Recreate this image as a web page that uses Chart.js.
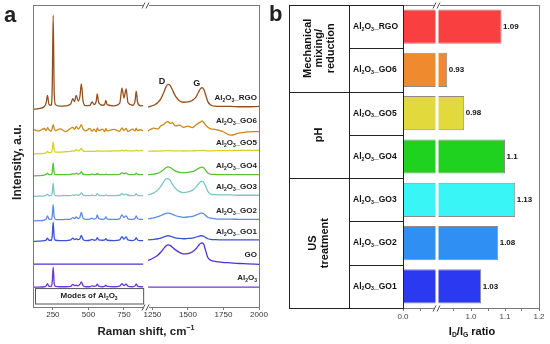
<!DOCTYPE html>
<html>
<head>
<meta charset="utf-8">
<script src="https://cdn.jsdelivr.net/npm/chart.js@4.4.1/dist/chart.umd.min.js"></script>
<style>
  html, body { margin: 0; padding: 0; background: #fff; }
  #wrap { position: relative; width: 550px; height: 344px; overflow: hidden; }
  canvas { position: absolute; top: 0; }
  #ramanChart { left: 0; }
  #ratioChart { left: 268px; }
</style>
</head>
<body>
<div id="wrap">
  <canvas id="ramanChart" width="282" height="344"></canvas>
  <canvas id="ratioChart" width="282" height="344"></canvas>
</div>
<script>
const FONT = '"Liberation Sans", Arial, sans-serif';

// ---- panel a: Raman shift (cm-1), two segments of a broken axis ----
const shiftLow = [110, 150, 190, 203, 212, 222, 238, 245, 252, 259, 268, 300, 340, 375, 390, 402, 414, 428, 440, 450, 462, 480, 510, 526, 540, 555, 562, 572, 600, 615, 622, 632, 680, 720, 736, 750, 765, 778, 810, 828, 836, 846, 866, 885];
const shiftHigh = [1220, 1240, 1260, 1290, 1310, 1330, 1345, 1360, 1375, 1390, 1410, 1440, 1470, 1500, 1530, 1555, 1575, 1590, 1600, 1612, 1625, 1640, 1660, 1690, 1740, 1800, 1860, 1920, 2000];
const ramanTicks = [250, 500, 750, 1250, 1500, 1750, 2000];

const spectrumNames = ['RGO', 'GO6', 'GO5', 'GO4', 'GO3', 'GO2', 'GO1', 'GO', 'Al2O3'];
const stackOffsets = [66.2, 58.6, 51.3, 43.7, 36.8, 28.8, 21.9, 14.2, 6.6];

const rgoLow = [-0.8, -0.5, 0.2, 1.5, 3.9, 1.0, 0.6, 6.0, 30.4, 5.0, 0.8, 0.3, 0.4, 1.0, 2.8, 1.8, 3.9, 2.0, 3.5, 7.7, 2.0, 0.5, 0.6, 1.7, 0.8, 2.0, 4.4, 1.5, 0.6, 1.0, 2.2, 0.8, 0.4, 1.2, 6.3, 3.0, 6.0, 1.5, 0.6, 2.0, 5.3, 1.5, 0.4, 0.5];
const rgoHigh = [0, 0.3, 0.6, 1.6, 2.8, 4.8, 6.6, 7.5, 7.1, 5.8, 3.8, 2.1, 1.6, 1.7, 2.2, 3.2, 5.0, 6.2, 6.4, 5.8, 4.0, 1.8, 0.7, 0.3, 0.2, 0.2, 0.1, 0.1, 0.2];
const go6Low = [0.2, -0.3, 0.5, -0.2, 0.8, 0.1, -0.4, 0.6, 1.8, 0.5, -0.2, 0.4, -0.5, 0.6, 0.9, 0.2, 1.2, 0.3, 0.9, 1.8, 0.4, -0.3, 0.5, -0.4, 0.3, -0.6, 0.7, -0.2, 0.3, -0.5, 0.5, -0.3, 0.2, -0.4, 0.7, -0.1, 0.5, -0.5, 0.3, -0.3, 0.6, -0.2, 0.1, -0.3];
const go6High = [-0.3, 0.3, 0.6, 0.4, 1.4, 1.8, 2.6, 2.8, 2.2, 2.5, 1.4, 1.6, 0.9, 1.3, 0.8, 1.6, 2.3, 2.7, 3.0, 2.4, 1.6, 0.9, 0.4, 0.2, -0.4, -1.7, -1.0, -0.6, -0.5];
const go5Low = [-0.6, -0.5, -0.4, -0.2, 0.2, -0.2, -0.1, 0.8, 3.3, 0.8, 0, 0, 0.1, 0.2, 0.4, 0.3, 0.8, 0.4, 0.6, 1.2, 0.4, 0.2, 0.2, 0.3, 0.2, 0.3, 0.5, 0.3, 0.3, 0.3, 0.4, 0.3, 0.4, 0.4, 0.6, 0.4, 0.6, 0.4, 0.4, 0.4, 0.6, 0.4, 0.5, 0.5];
const go5High = [0.3, 0.3, 0.35, 0.3, 0.4, 0.4, 0.45, 0.5, 0.45, 0.4, 0.4, 0.4, 0.35, 0.4, 0.4, 0.45, 0.5, 0.5, 0.55, 0.5, 0.45, 0.4, 0.4, 0.45, 0.5, 0.5, 0.55, 0.55, 0.6];
const go4Low = [-0.3, -0.2, 0, 0.2, 0.6, 0.1, 0.1, 0.9, 4.0, 0.8, 0.1, 0.1, 0.1, 0.2, 0.4, 0.3, 0.6, 0.3, 0.5, 1.0, 0.3, 0.1, 0.1, 0.3, 0.1, 0.2, 0.5, 0.2, 0.1, 0.1, 0.3, 0.1, 0.1, 0.2, 0.8, 0.4, 0.7, 0.2, 0.1, 0.2, 0.6, 0.2, 0.1, 0.1];
const go4High = [0.1, 0.2, 0.3, 0.6, 1.1, 1.8, 2.4, 2.7, 2.5, 2.0, 1.4, 0.9, 0.8, 0.9, 1.1, 1.6, 2.2, 2.5, 2.6, 2.3, 1.5, 0.7, 0.3, 0.2, 0.1, 0.1, 0.1, 0.1, 0.1];
const go3Low = [-0.2, -0.1, 0, 0.2, 0.5, 0.1, 0.1, 0.9, 4.2, 0.8, 0.1, 0, 0.1, 0.1, 0.3, 0.2, 0.4, 0.2, 0.4, 1.0, 0.3, 0.1, 0.1, 0.2, 0.1, 0.2, 0.7, 0.2, 0.1, 0.1, 0.3, 0.1, 0.1, 0.2, 0.7, 0.3, 0.6, 0.2, 0.1, 0.2, 0.7, 0.2, 0.1, 0.1];
const go3High = [0.3, 0.6, 1.0, 2.0, 3.2, 4.7, 5.6, 5.7, 5.1, 3.9, 2.6, 1.4, 1.1, 1.3, 1.8, 2.8, 4.0, 4.7, 4.8, 4.4, 3.2, 1.5, 0.6, 0.4, 0.3, 0.3, 0.2, 0.2, 0.2];
const go2Low = [-0.3, -0.2, 0, 0.4, 1.4, 0.3, 0.2, 1.2, 5.1, 1.0, 0.2, 0.1, 0.2, 0.3, 0.8, 0.5, 1.0, 0.5, 0.9, 2.5, 0.6, 0.2, 0.3, 0.6, 0.3, 0.6, 1.7, 0.5, 0.2, 0.4, 1.0, 0.3, 0.2, 0.4, 1.7, 0.8, 1.4, 0.4, 0.2, 0.5, 1.4, 0.4, 0.2, 0.2];
const go2High = [0.4, 0.5, 0.7, 1.1, 1.5, 1.9, 2.2, 2.3, 2.2, 1.9, 1.5, 1.1, 0.9, 1.0, 1.2, 1.6, 2.0, 2.3, 2.3, 2.1, 1.5, 0.9, 0.6, 0.4, 0.3, 0.3, 0.2, 0.2, 0.2];
const go1Low = [-0.2, -0.1, 0.1, 0.3, 0.9, 0.2, 0.2, 1.4, 6.2, 1.2, 0.2, 0.1, 0.1, 0.3, 0.9, 0.4, 0.7, 0.4, 0.7, 1.8, 0.5, 0.1, 0.2, 0.5, 0.2, 0.4, 1.1, 0.3, 0.2, 0.3, 0.7, 0.2, 0.1, 0.3, 1.4, 0.6, 1.3, 0.3, 0.1, 0.4, 1.1, 0.3, 0.1, 0.1];
const go1High = [0.3, 0.4, 0.5, 0.7, 0.9, 1.3, 1.6, 1.7, 1.6, 1.3, 1.0, 0.8, 0.7, 0.8, 0.9, 1.2, 1.5, 1.7, 1.7, 1.5, 1.1, 0.7, 0.5, 0.4, 0.3, 0.3, 0.3, 0.3, 0.3];
const goLow = [0, 0, 0, 0, 0, 0, 0, 0, 0, 0, 0, 0, 0, 0, 0, 0, 0, 0, 0, 0, 0, 0, 0, 0, 0, 0, 0, 0, 0, 0, 0, 0, 0, 0, 0, 0, 0, 0, 0, 0, 0, 0, 0, 0];
const goHigh = [1.2, 1.6, 2.1, 3.0, 4.0, 5.2, 6.0, 6.4, 6.2, 5.6, 4.8, 3.9, 3.4, 3.5, 4.0, 5.0, 6.2, 6.9, 7.0, 6.5, 4.4, 2.2, 1.3, 0.9, 0.6, 0.4, 0.2, 0.1, -0.1];
const aluminaLow = [0, 0, 0.1, 0.4, 1.1, 0.2, 0.2, 1.5, 6.6, 1.2, 0.2, 0.1, 0.1, 0.2, 0.9, 0.5, 0.6, 0.4, 0.9, 1.7, 0.5, 0.1, 0.1, 0.4, 0.2, 0.4, 1.0, 0.3, 0.1, 0.3, 0.6, 0.2, 0.1, 0.3, 1.1, 0.5, 1.0, 0.3, 0.1, 0.4, 1.0, 0.3, 0.1, 0.1];
const aluminaHigh = [0, 0, 0, 0, 0, 0, 0, 0, 0, 0, 0, 0, 0, 0, 0, 0, 0, 0, 0, 0, 0, 0, 0, 0, 0, 0, 0, 0, 0];

const lowSeries = [rgoLow, go6Low, go5Low, go4Low, go3Low, go2Low, go1Low, goLow, aluminaLow];
const highSeries = [rgoHigh, go6High, go5High, go4High, go3High, go2High, go1High, goHigh, aluminaHigh];
const spectrumColors = ['#94501e', '#c98a1c', '#d8d02a', '#58c238', '#7cc6c6', '#5a8ee0', '#3a52d6', '#4a32d8', '#6a38d8'];

// ---- panel b: ID/IG ratio ----
const ratioSamples = ['RGO', 'GO6', 'GO5', 'GO4', 'GO3', 'GO2', 'GO1'];
const ratioValues = [1.09, 0.93, 0.98, 1.1, 1.13, 1.08, 1.03];
const ratioLabels = ['1.09', '0.93', '0.98', '1.1', '1.13', '1.08', '1.03'];
const ratioTicks = [0, 0.05, 0.95, 1.0, 1.05, 1.1, 1.15, 1.2];
const groupTitles = [['Mechanical', 'mixing/', 'reduction'], ['pH'], ['US', 'treatment']];
const groupRows = [2, 2, 3];
const barColors = ['#f93f3f', '#ef8a2e', '#e2da3c', '#1fd21f', '#3af5f5', '#2f8ff2', '#2b3af0'];

// broken axes: remove the empty middle part
const ramanPos = v => v > 1000 ? v - 300 : v;
const ramanBack = v => v > 905 ? v + 300 : v;
const ratioPos = v => v > 0.5 ? v - 0.8 : v;
const ratioBack = v => v > 0.125 ? v + 0.8 : v;

function richText(ctx, parts, x, y, size, align) {
    const fontFor = m => `bold ${m ? size * 0.62 : size}px ${FONT}`;
    const widths = parts.map(([t, m]) => { ctx.font = fontFor(m); return ctx.measureText(t).width; });
    const total = widths.reduce((a, b) => a + b, 0);
    let cx = align === 'right' ? x - total : align === 'center' ? x - total / 2 : x;
    ctx.textAlign = 'left';
    ctx.textBaseline = 'middle';
    parts.forEach(([t, m], i) => {
        ctx.font = fontFor(m);
        const dy = m === 1 ? size * 0.3 : m === 2 ? -size * 0.35 : 0;
        ctx.fillText(t, cx, y + dy);
        cx += widths[i];
    });
}

function sampleParts(name) {
    if (name === 'GO') return [['GO', 0]];
    const base = [['Al', 0], ['2', 1], ['O', 0], ['3', 1]];
    return name === 'Al2O3' ? base : base.concat([['_' + name, 0]]);
}

function drawBreak(ctx, xb, yb) {
    ctx.fillStyle = '#fff';
    ctx.fillRect(xb - 3, yb - 2.5, 6, 5);
    ctx.strokeStyle = '#555';
    ctx.lineWidth = 1;
    ctx.beginPath();
    ctx.moveTo(xb - 4, yb + 3); ctx.lineTo(xb - 1, yb - 3);
    ctx.moveTo(xb, yb + 3); ctx.lineTo(xb + 3, yb - 3);
    ctx.stroke();
}

// ---------- panel a ----------
const ramanDatasets = spectrumNames.map((name, i) => ({
    label: name,
    data: shiftLow.map((s, k) => ({ x: ramanPos(s), y: stackOffsets[i] + lowSeries[i][k] }))
        .concat([{ x: 905, y: null }])
        .concat(shiftHigh.map((s, k) => ({ x: ramanPos(s), y: stackOffsets[i] + highSeries[i][k] }))),
    borderColor: spectrumColors[i],
    borderWidth: 1.3,
    pointRadius: 0,
    cubicInterpolationMode: 'monotone',
    spanGaps: false
}));

const ramanDecor = {
    id: 'ramanDecor',
    afterDraw(chart) {
        const { ctx, chartArea: ca, scales: { x, y } } = chart;
        ctx.save();
        ctx.strokeStyle = '#7a7a7a';
        ctx.lineWidth = 1;
        ctx.strokeRect(ca.left + 0.5, ca.top + 0.5, ca.right - ca.left, ca.bottom - ca.top);
        const xb = x.getPixelForValue(905);
        drawBreak(ctx, xb, ca.top + 0.5);
        drawBreak(ctx, xb, ca.bottom + 0.5);

        // "Modes of Al2O3" box
        const bTop = y.getPixelForValue(stackOffsets[8]) + 1.5;
        const bRight = x.getPixelForValue(ramanPos(shiftLow[shiftLow.length - 1]));
        ctx.strokeStyle = '#555';
        ctx.strokeRect(ca.left + 2.5, bTop, bRight - ca.left - 2, ca.bottom - 3 - bTop);
        ctx.fillStyle = '#222';
        richText(ctx, [['Modes of Al', 0], ['2', 1], ['O', 0], ['3', 1]],
            (ca.left + bRight) / 2 + 1, (bTop + ca.bottom - 3) / 2, 8, 'center');

        // D and G band labels
        richText(ctx, [['D', 0]], x.getPixelForValue(ramanPos(1360)) - 6,
            y.getPixelForValue(stackOffsets[0] + 7.5) - 3, 9, 'center');
        richText(ctx, [['G', 0]], x.getPixelForValue(ramanPos(1598)) - 5,
            y.getPixelForValue(stackOffsets[0] + 6.4) - 4, 9, 'center');

        // spectrum labels
        spectrumNames.forEach((name, i) => {
            richText(ctx, sampleParts(name), ca.right - 2,
                y.getPixelForValue(stackOffsets[i]) - 9, 8, 'right');
        });

        // axis titles
        ctx.save();
        ctx.translate(18, (ca.top + ca.bottom) / 2 + 6);
        ctx.rotate(-Math.PI / 2);
        richText(ctx, [['Intensity, a.u.', 0]], 0, 0, 12, 'center');
        ctx.restore();
        richText(ctx, [['Raman shift, cm', 0], ['\u22121', 2]], (ca.left + ca.right) / 2, 332, 11.5, 'center');

        // panel letters
        richText(ctx, [['a', 0]], 4, 16, 22, 'left');
        richText(ctx, [['b', 0]], 269, 15, 22, 'left');
        ctx.restore();
    }
};

new Chart(document.getElementById('ramanChart'), {
    type: 'line',
    data: { datasets: ramanDatasets },
    options: {
        responsive: false,
        animation: false,
        layout: { padding: { left: 33, top: 5, right: 23, bottom: 0 } },
        plugins: { legend: { display: false }, tooltip: { enabled: false } },
        scales: {
            x: {
                type: 'linear',
                min: 110,
                max: 1700,
                afterBuildTicks: s => { s.ticks = ramanTicks.map(v => ({ value: ramanPos(v) })); },
                afterFit: s => { s.height = 37; },
                ticks: {
                    autoSkip: false,
                    maxRotation: 0,
                    padding: 0,
                    color: '#333',
                    font: { family: FONT, size: 8 },
                    callback: v => String(ramanBack(v))
                },
                grid: { drawOnChartArea: false, tickLength: 3, color: '#777' },
                border: { display: false }
            },
            y: { display: false, min: 0, max: 100 }
        }
    },
    plugins: [ramanDecor]
});

// ---------- panel b ----------
const ratioDecor = {
    id: 'ratioDecor',
    afterDraw(chart) {
        const { ctx, chartArea: ca, scales: { x } } = chart;
        const rowH = (ca.bottom - ca.top) / ratioSamples.length;
        const tLeft = ca.left - 114;
        const tMid = ca.left - 54;
        ctx.save();

        // plot frame
        ctx.strokeStyle = '#7a7a7a';
        ctx.lineWidth = 1;
        ctx.beginPath();
        ctx.moveTo(ca.left, ca.top + 0.5); ctx.lineTo(ca.right + 0.5, ca.top + 0.5);
        ctx.lineTo(ca.right + 0.5, ca.bottom + 0.5); ctx.lineTo(ca.left, ca.bottom + 0.5);
        ctx.stroke();

        // axis break through the bars
        const xs = x.getPixelForValue(0.1);
        ctx.fillStyle = '#fff';
        ctx.fillRect(xs - 1.5, ca.top - 1, 3, ca.bottom - ca.top + 2);
        drawBreak(ctx, xs, ca.top + 0.5);
        drawBreak(ctx, xs, ca.bottom + 0.5);

        // grouping table
        ctx.strokeStyle = '#222';
        ctx.beginPath();
        ctx.moveTo(tLeft + 0.5, ca.top + 0.5); ctx.lineTo(ca.left + 0.5, ca.top + 0.5);
        ctx.moveTo(tLeft + 0.5, ca.bottom + 0.5); ctx.lineTo(ca.left + 0.5, ca.bottom + 0.5);
        [tLeft, tMid, ca.left].forEach(px => { ctx.moveTo(px + 0.5, ca.top); ctx.lineTo(px + 0.5, ca.bottom + 1); });
        const groupEnds = [];
        groupRows.reduce((acc, n) => { groupEnds.push(acc + n); return acc + n; }, 0);
        for (let i = 1; i < ratioSamples.length; i++) {
            const yy = Math.round(ca.top + i * rowH) + 0.5;
            ctx.moveTo((groupEnds.includes(i) ? tLeft : tMid) + 0.5, yy);
            ctx.lineTo(ca.left + 0.5, yy);
        }
        ctx.stroke();

        ctx.fillStyle = '#111';
        let start = 0;
        groupTitles.forEach((lines, g) => {
            const cy = ca.top + (start + groupRows[g] / 2) * rowH;
            const cx = (tLeft + tMid) / 2;
            ctx.save();
            ctx.translate(cx, cy);
            ctx.rotate(-Math.PI / 2);
            lines.forEach((line, k) => {
                richText(ctx, [[line, 0]], 0, (k - (lines.length - 1) / 2) * 11.5, 11, 'center');
            });
            ctx.restore();
            start += groupRows[g];
        });

        ratioSamples.forEach((name, i) => {
            richText(ctx, sampleParts(name), tMid + 4, ca.top + (i + 0.5) * rowH, 8.5, 'left');
        });

        // value labels
        const bars = chart.getDatasetMeta(0).data;
        bars.forEach((el, i) => {
            richText(ctx, [[ratioLabels[i], 0]], el.x + 1.5, el.y, 8, 'left');
        });

        // axis title
        richText(ctx, [['I', 0], ['D', 1], ['/I', 0], ['G', 1], [' ratio', 0]], (ca.left + ca.right) / 2 + 1, 332, 11, 'center');
        ctx.restore();
    }
};

new Chart(document.getElementById('ratioChart'), {
    type: 'bar',
    data: {
        labels: ratioSamples,
        datasets: [{
            data: ratioValues.map(ratioPos),
            backgroundColor: barColors,
            borderColor: 'rgba(110, 100, 90, 0.75)',
            borderWidth: 1,
            borderSkipped: 'start',
            categoryPercentage: 0.79,
            barPercentage: 1
        }]
    },
    options: {
        indexAxis: 'y',
        responsive: false,
        animation: false,
        layout: { padding: { left: 135, top: 5, right: 11, bottom: 0 } },
        plugins: { legend: { display: false }, tooltip: { enabled: false } },
        scales: {
            x: {
                type: 'linear',
                min: 0,
                max: 0.4,
                afterBuildTicks: s => { s.ticks = ratioTicks.map(v => ({ value: ratioPos(v) })); },
                afterFit: s => { s.height = 36; },
                ticks: {
                    autoSkip: false,
                    maxRotation: 0,
                    padding: 1,
                    color: '#444',
                    font: { family: FONT, size: 8 },
                    callback: v => {
                        const r = Math.round(ratioBack(v) * 100);
                        return r % 10 === 0 ? (r / 100).toFixed(1) : '';
                    }
                },
                grid: { drawOnChartArea: false, tickLength: 3, color: '#777' },
                border: { display: false }
            },
            y: { display: false }
        }
    },
    plugins: [ratioDecor]
});
</script>
</body>
</html>
